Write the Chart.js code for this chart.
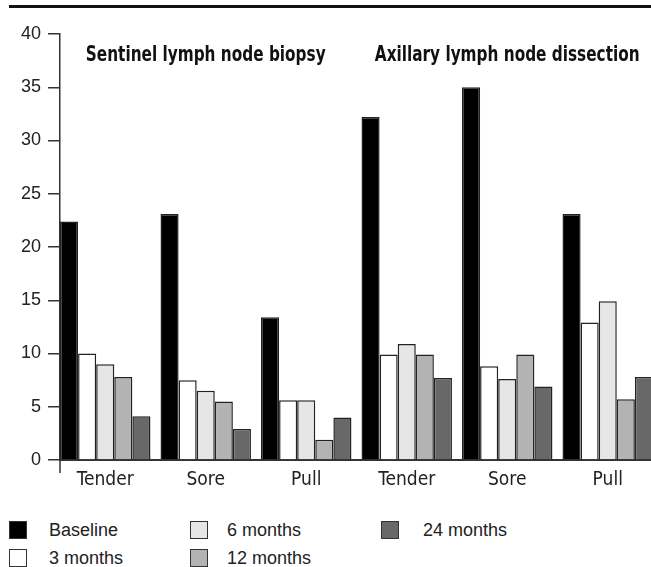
<!DOCTYPE html>
<html>
<head>
<meta charset="utf-8">
<script src="https://cdn.jsdelivr.net/npm/chart.js@4"></script>
<style>
  html, body { margin: 0; padding: 0; background: #fff; }
  body { width: 651px; height: 567px; overflow: hidden; position: relative; }
  #regla { position: absolute; left: 9px; right: 0; top: 5px; height: 3px; background: #111; }
  #grafico { position: absolute; left: 0; top: 0; }
  .item { position: absolute; font: 18px "Liberation Sans", Arial, sans-serif; color: #222; line-height: 20px; }
  .item span.caja { position: absolute; left: 0; top: 1px; width: 16px; height: 16px; border: 1.5px solid #333; }
</style>
</head>
<body>
<div id="regla"></div>
<canvas id="grafico" width="665" height="500"></canvas>
<div id="leyenda"></div>

<script>
// categorias del eje x (dos paneles de tres)
const categorias = ["Tender", "Sore", "Pull", "Tender", "Sore", "Pull"];
const paneles = ["Sentinel lymph node biopsy", "Axillary lymph node dissection"];

// valores
const baseline = [22.4, 23.1, 13.4, 32.2, 35.0, 23.1];
const meses3 = [10.0, 7.5, 5.6, 9.9, 8.8, 12.9];
const meses6 = [9.0, 6.5, 5.6, 10.9, 7.6, 14.9];
const meses12 = [7.8, 5.5, 1.9, 9.9, 9.9, 5.7];
const meses24 = [4.1, 2.9, 4.0, 7.7, 6.9, 7.8];

const series = ["Baseline", "3 months", "6 months", "12 months", "24 months"];
const colores = ["#000000", "#ffffff", "#e6e6e6", "#b3b3b3", "#686868"];
const valores = [baseline, meses3, meses6, meses12, meses24];

const yTicks = [0, 5, 10, 15, 20, 25, 30, 35, 40];

const datasets = series.map((nombre, i) => ({
  label: nombre,
  data: valores[i].map((v, k) => ({ x: k, y: v })),
  backgroundColor: colores[i],
  borderColor: "#222",
  borderWidth: 1.5,
  categoryPercentage: 0.9,
  barPercentage: 1.0,
}));

// titulos de panel + prolongacion del eje y
const extras = {
  id: "extras",
  afterDraw(chart) {
    const { ctx, chartArea, scales } = chart;
    ctx.save();
    ctx.strokeStyle = "#333";
    ctx.lineWidth = 1.5;
    ctx.beginPath();
    ctx.moveTo(chartArea.left, chartArea.bottom);
    ctx.lineTo(chartArea.left, chartArea.bottom + 13);
    ctx.stroke();

    ctx.fillStyle = "#111";
    ctx.font = 'bold 21px "DejaVu Sans", sans-serif';
    ctx.fontStretch = "condensed";
    ctx.textAlign = "center";
    ctx.textBaseline = "middle";
    paneles.forEach((t, i) => {
      const x = scales.x.getPixelForValue(i * 3 + 1);
      const y = scales.y.getPixelForValue(38);
      ctx.save();
      ctx.translate(x, y);
      ctx.scale(0.81, 1); // letra estrecha como el original
      ctx.fillText(t, 0, 0);
      ctx.restore();
    });
    ctx.restore();
  },
};

new Chart(document.getElementById("grafico"), {
  type: "bar",
  data: { datasets },
  plugins: [extras],
  options: {
    responsive: false,
    animation: false,
    devicePixelRatio: 1,
    layout: { padding: { top: 34, right: 2, left: 0, bottom: 0 } },
    plugins: { legend: { display: false }, tooltip: { enabled: false } },
    scales: {
      x: {
        type: "linear",
        offset: false,
        min: -0.45,
        max: categorias.length - 0.45,
        afterBuildTicks: (s) => { s.ticks = categorias.map((_, i) => ({ value: i })); },
        afterFit: (s) => { s.height = 40; },
        grid: { display: false, drawTicks: false, offset: false },
        border: { display: true, color: "#333", width: 2 },
        ticks: {
          autoSkip: false,
          maxRotation: 0,
          padding: 9,
          color: "#222",
          font: { family: '"DejaVu Sans", sans-serif', size: 19, weight: "normal condensed" },
          callback: (v) => categorias[v],
        },
      },
      y: {
        min: 0,
        max: 40,
        afterBuildTicks: (s) => { s.ticks = yTicks.map((v) => ({ value: v })); },
        afterFit: (s) => { s.width = 60; },
        grid: { drawOnChartArea: false, drawTicks: true, tickLength: 12, color: "#333", lineWidth: 1.5 },
        border: { display: true, color: "#333", width: 1.5 },
        ticks: {
          padding: 7,
          color: "#222",
          font: { family: '"Liberation Sans", Arial, sans-serif', size: 18 },
        },
      },
    },
  },
});

// leyenda en columnas
const posLeyenda = [
  { x: 9, y: 520, tx: 49 },
  { x: 9, y: 548, tx: 49 },
  { x: 190, y: 520, tx: 227 },
  { x: 190, y: 548, tx: 227 },
  { x: 381, y: 520, tx: 423 },
];
const ley = document.getElementById("leyenda");
series.forEach((nombre, i) => {
  const p = posLeyenda[i];
  const d = document.createElement("div");
  d.className = "item";
  d.style.left = p.x + "px";
  d.style.top = p.y + "px";
  d.innerHTML = `<span class="caja" style="background:${colores[i]}"></span><span style="position:absolute;left:${p.tx - p.x}px;white-space:nowrap">${nombre}</span>`;
  ley.appendChild(d);
});
</script>
</body>
</html>
